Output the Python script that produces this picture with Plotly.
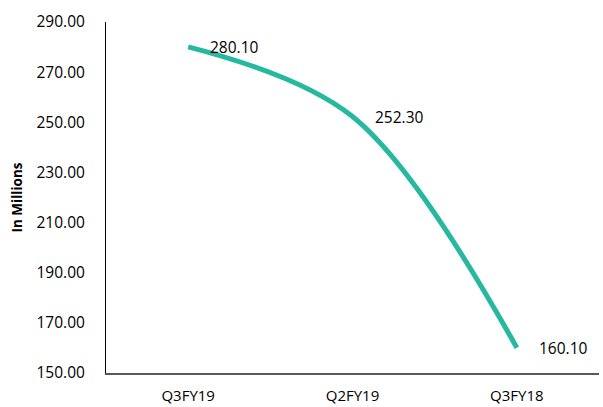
import plotly.graph_objects as go

categories = ["Q3FY19", "Q2FY19", "Q3FY18"]
values = [280.10, 252.30, 160.10]
value_labels = ["280.10", "252.30", "160.10"]
y_ticks = [150, 170, 190, 210, 230, 250, 270, 290]

fig = go.Figure()
fig.add_trace(go.Scatter(
    x=categories, y=values, mode="lines",
    line=dict(color="#27B9A0", width=5, shape="spline", smoothing=1.0),
    hoverinfo="skip", showlegend=False,
))
for c, v, t in zip(categories, values, value_labels):
    fig.add_annotation(x=c, y=v, text=t, showarrow=False, xanchor="left",
                       yanchor="middle", xshift=20,
                       font=dict(family="Open Sans", size=15.5, color="#000000"))

fig.update_layout(
    width=603, height=407,
    margin=dict(l=106, r=4, t=22, b=34),
    paper_bgcolor="white", plot_bgcolor="white",
    font=dict(family="Open Sans", size=15.5, color="#000000"),
    xaxis=dict(type="category", range=[-0.5, 2.5], showgrid=False,
               showline=True, linecolor="#595959", linewidth=1.5,
               ticks="", tickfont=dict(size=15), ticklabelstandoff=8,
               zeroline=False, automargin=False),
    yaxis=dict(range=[150, 290], tickvals=y_ticks,
               ticktext=[f"{v:.2f}" for v in y_ticks],
               showgrid=False, showline=True, linecolor="#000000", linewidth=1,
               ticks="", ticklabelstandoff=17, zeroline=False, automargin=False,
               title=dict(text="<b>In Millions</b>", font=dict(size=13.5), standoff=10)),
)
fig.write_html("out.html")
